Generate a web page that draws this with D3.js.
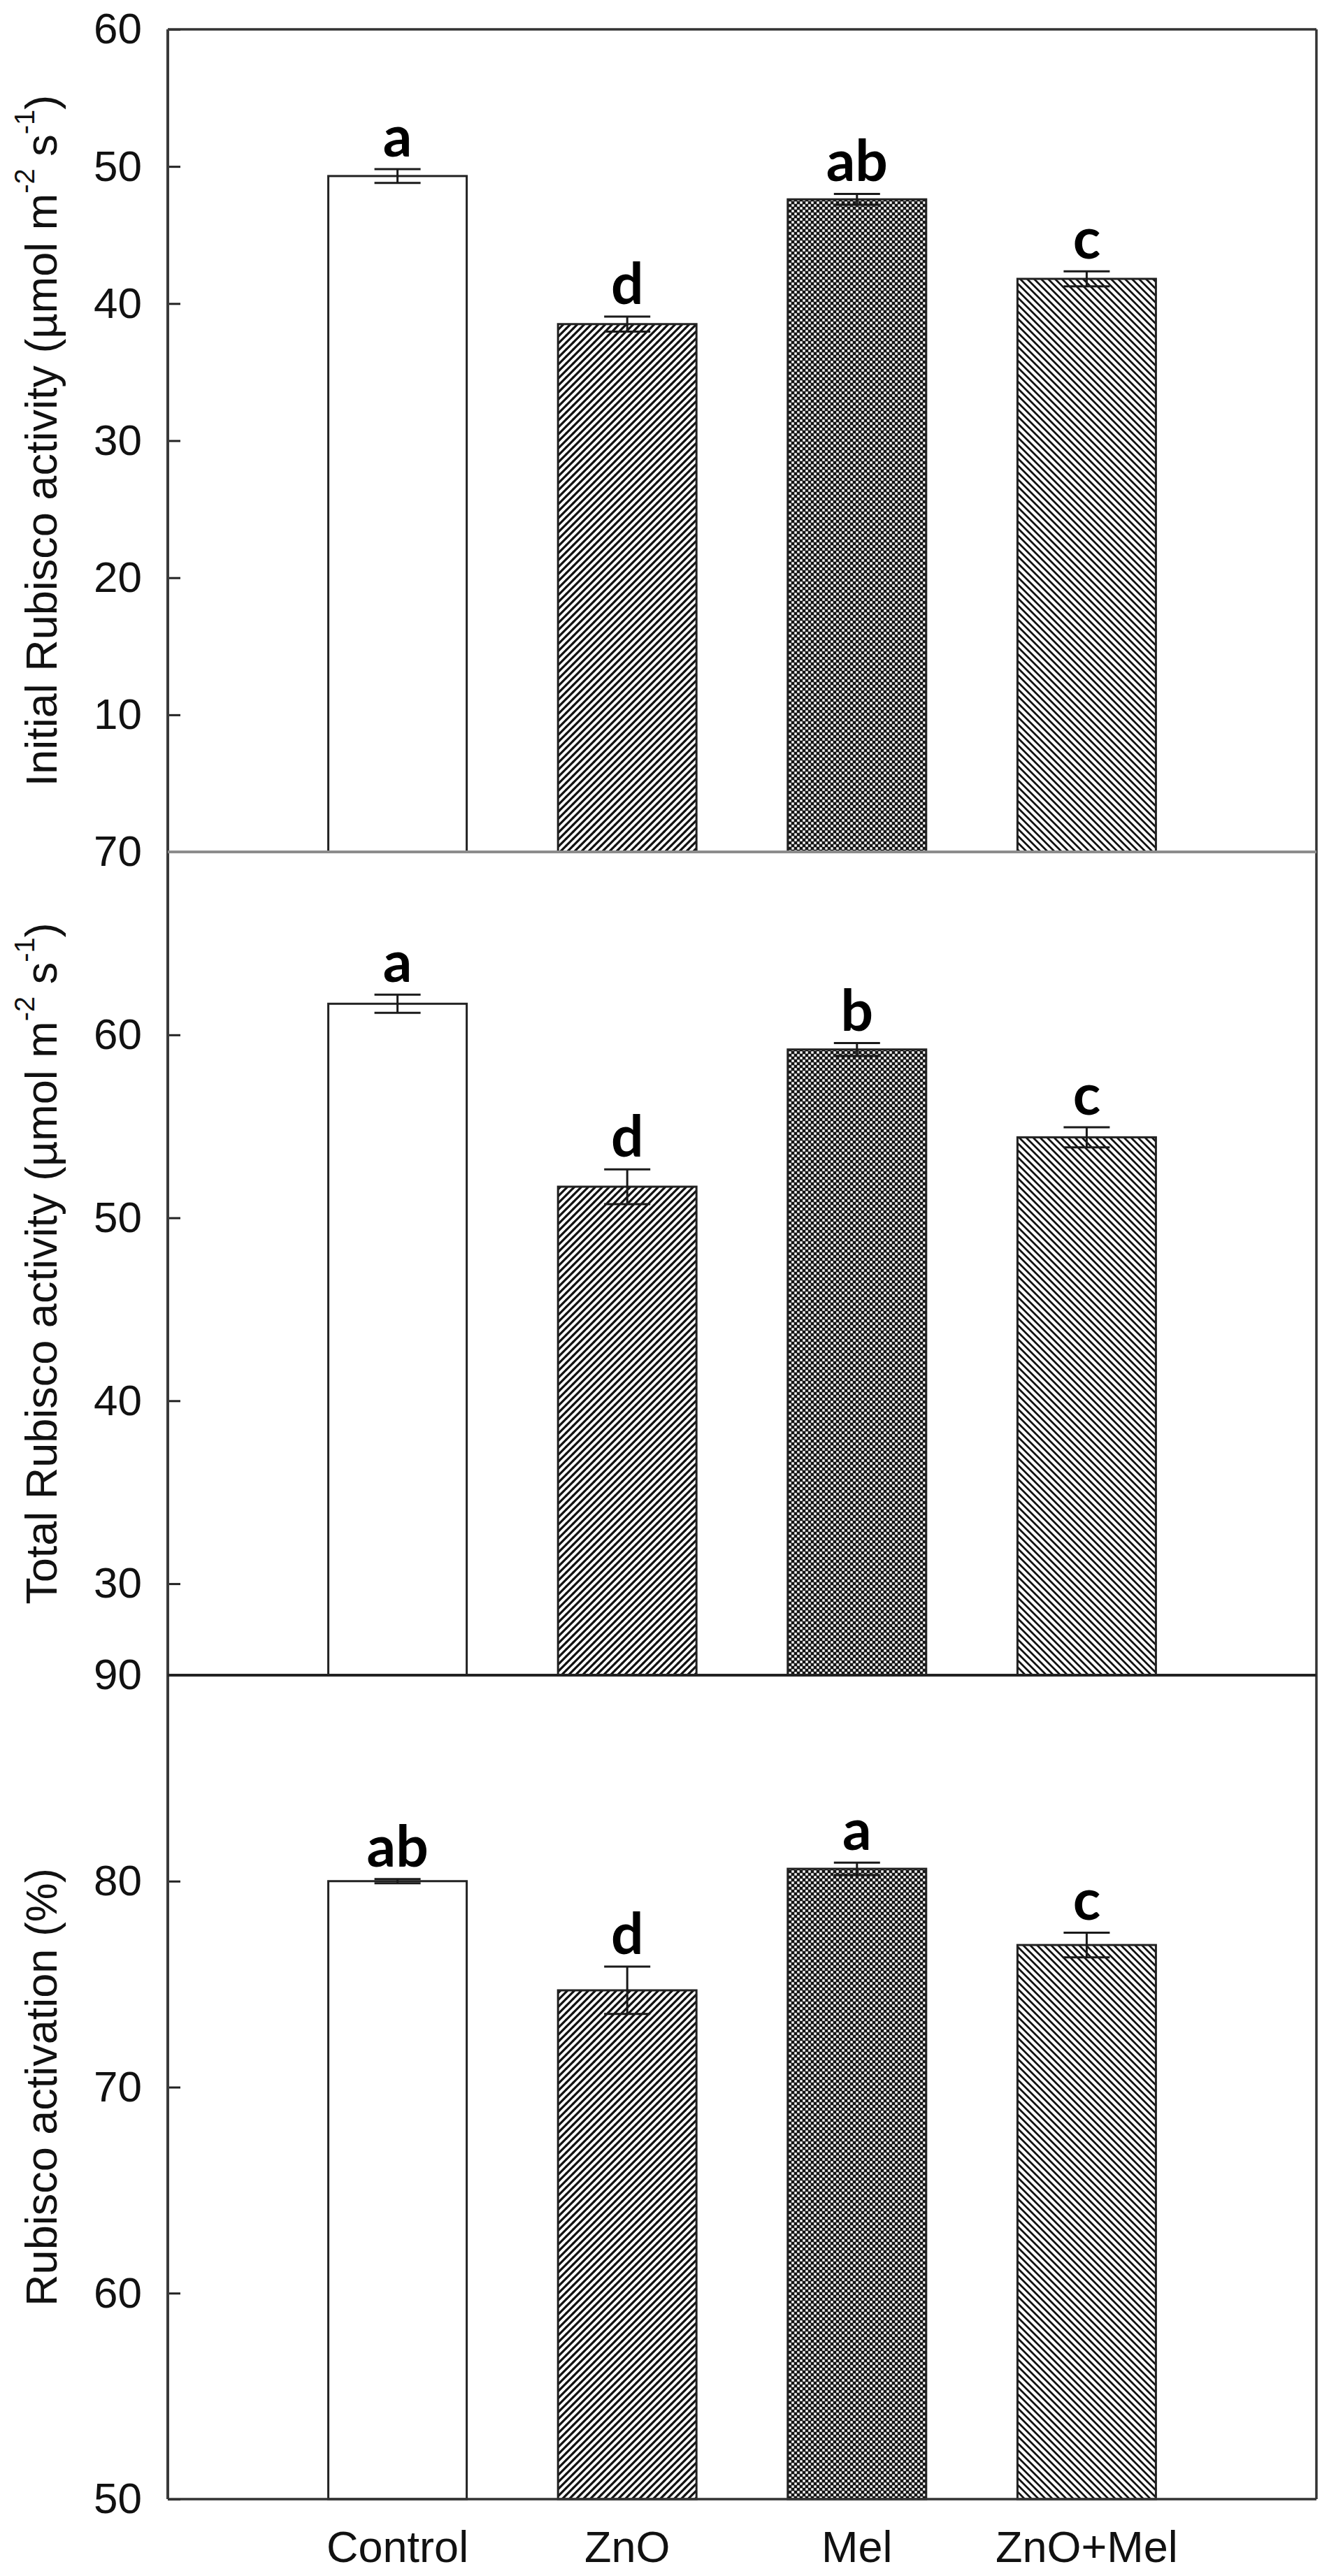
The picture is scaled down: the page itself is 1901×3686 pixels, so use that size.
<!DOCTYPE html>
<html><head><meta charset="utf-8">
<script src="https://cdn.jsdelivr.net/npm/d3@7"></script>
<style>body{margin:0;background:#fff}svg{display:block}</style>
</head><body><svg id="chart"></svg>
<script>
// ---- data ----
const categories = ["Control", "ZnO", "Mel", "ZnO+Mel"];
const initialValues = [49.3, 38.5, 47.6, 41.8];
const initialSE = [0.5, 0.55, 0.4, 0.55];
const initialLetters = ["a", "d", "ab", "c"];
const totalValues = [61.7, 51.7, 59.2, 54.4];
const totalSE = [0.5, 0.95, 0.35, 0.55];
const totalLetters = ["a", "d", "b", "c"];
const activationValues = [80.0, 74.7, 80.6, 76.9];
const activationSE = [0.1, 1.15, 0.3, 0.6];
const activationLetters = ["ab", "d", "a", "c"];
const initialTicks = [10, 20, 30, 40, 50, 60];
const totalTicks = [30, 40, 50, 60, 70];
const activationTicks = [50, 60, 70, 80, 90];
const initialDomain = [0, 60];
const totalDomain = [25, 70];
const activationDomain = [50, 90];

// ---- layout ----
const W = 1901, H = 3686;
const left = 240, right = 1883;
const svg = d3.select("#chart").attr("width", W).attr("height", H);
svg.append("rect").attr("width", W).attr("height", H).attr("fill", "#fff");

const defs = svg.append("defs");
const pR = defs.append("pattern").attr("id", "hatchR").attr("patternUnits", "userSpaceOnUse")
  .attr("width", 10).attr("height", 10);
pR.append("rect").attr("width", 10).attr("height", 10).attr("fill", "#fff");
pR.append("path").attr("d", "M-1,1 l2,-2 M0,10 l10,-10 M9,11 l2,-2")
  .attr("stroke", "#111").attr("stroke-width", 3.2);
const pL = defs.append("pattern").attr("id", "hatchL").attr("patternUnits", "userSpaceOnUse")
  .attr("width", 10).attr("height", 10);
pL.append("rect").attr("width", 10).attr("height", 10).attr("fill", "#fff");
pL.append("path").attr("d", "M-1,9 l2,2 M0,0 l10,10 M9,-1 l2,2")
  .attr("stroke", "#111").attr("stroke-width", 2.8);
const pC = defs.append("pattern").attr("id", "checker").attr("patternUnits", "userSpaceOnUse")
  .attr("width", 8).attr("height", 8);
pC.append("rect").attr("width", 8).attr("height", 8).attr("fill", "#141414");
pC.append("rect").attr("x", 0.3).attr("y", 0.3).attr("width", 3.4).attr("height", 3.4).attr("fill", "#fff");
pC.append("rect").attr("x", 4.3).attr("y", 4.3).attr("width", 3.4).attr("height", 3.4).attr("fill", "#fff");
const fills = ["#fff", "url(#hatchR)", "url(#checker)", "url(#hatchL)"];

const x = d3.scalePoint().domain(categories).range([left, right]).padding(1);
const barW = 198;

const panels = [
  { values: initialValues, se: initialSE, letters: initialLetters, ticks: initialTicks,
    domain: initialDomain, top: 42, bottom: 1219,
    title: [["Initial Rubisco activity (µmol m", 0], ["-2", 1], [" s", 0], ["-1", 1], [")", 0]] },
  { values: totalValues, se: totalSE, letters: totalLetters, ticks: totalTicks,
    domain: totalDomain, top: 1219, bottom: 2397,
    title: [["Total Rubisco activity (µmol m", 0], ["-2", 1], [" s", 0], ["-1", 1], [")", 0]] },
  { values: activationValues, se: activationSE, letters: activationLetters, ticks: activationTicks,
    domain: activationDomain, top: 2397, bottom: 3576,
    title: [["Rubisco activation (%)", 0]] }
];

panels.forEach((p, pi) => {
  const y = d3.scaleLinear().domain(p.domain).range([p.bottom, p.top]);
  const g = svg.append("g");

  // bars
  g.selectAll("rect.bar").data(categories).join("rect").attr("class", "bar")
    .attr("x", d => x(d) - barW / 2).attr("width", barW)
    .attr("y", (d, i) => y(p.values[i]))
    .attr("height", (d, i) => y(p.domain[0]) - y(p.values[i]))
    .attr("fill", (d, i) => fills[i])
    .attr("stroke", "#222").attr("stroke-width", 3);

  // error bars
  const eb = g.selectAll("g.eb").data(categories).join("g").attr("class", "eb")
    .attr("stroke", "#1a1a1a").attr("stroke-width", 3);
  eb.append("line").attr("x1", d => x(d)).attr("x2", d => x(d))
    .attr("y1", (d, i) => y(p.values[i] - p.se[i])).attr("y2", (d, i) => y(p.values[i] + p.se[i]));
  [-1, 1].forEach(s => {
    eb.append("line").attr("x1", d => x(d) - 33).attr("x2", d => x(d) + 33)
      .attr("y1", (d, i) => y(p.values[i] + s * p.se[i])).attr("y2", (d, i) => y(p.values[i] + s * p.se[i]));
  });

  // letters
  g.selectAll("text.let").data(categories).join("text").attr("class", "let")
    .attr("x", d => x(d)).attr("y", (d, i) => y(p.values[i] + p.se[i]) - 18)
    .attr("text-anchor", "middle").attr("font-family", "Lato, 'Open Sans', sans-serif")
    .attr("font-weight", "bold").attr("font-size", 82).attr("fill", "#000")
    .text((d, i) => p.letters[i]);

  // y axis
  const ax = g.append("g").attr("transform", `translate(${left},0)`)
    .call(d3.axisLeft(y).tickValues(p.ticks).tickSize(-18).tickPadding(37).tickFormat(d3.format("d")));
  ax.select(".domain").remove();
  ax.selectAll(".tick line").attr("stroke", "#222").attr("stroke-width", 3);
  ax.selectAll(".tick text").attr("font-family", "'Liberation Sans', Arial, sans-serif")
    .attr("font-size", 62).attr("fill", "#111");

  // title
  const t = g.append("text")
    .attr("transform", `translate(81,${(p.top + p.bottom) / 2}) rotate(-90)`)
    .attr("text-anchor", "middle").attr("font-family", "'Liberation Sans', Arial, sans-serif")
    .attr("font-size", 63).attr("fill", "#111");
  p.title.forEach(([s, sup], k) => {
    const ts = t.append("tspan").text(s);
    if (sup) ts.attr("font-size", 40).attr("dy", -32);
    else if (k > 0 && p.title[k - 1][1]) ts.attr("dy", 32);
  });
});

// frame
const frame = svg.append("g").attr("fill", "none");
frame.append("line").attr("x1", left).attr("x2", right).attr("y1", 42).attr("y2", 42)
  .attr("stroke", "#333").attr("stroke-width", 3.5);
frame.append("line").attr("x1", left).attr("x2", left).attr("y1", 42).attr("y2", 3576)
  .attr("stroke", "#3a3a3a").attr("stroke-width", 4);
frame.append("line").attr("x1", right).attr("x2", right).attr("y1", 42).attr("y2", 3576)
  .attr("stroke", "#333").attr("stroke-width", 3.5);
frame.append("line").attr("x1", left).attr("x2", right).attr("y1", 1219).attr("y2", 1219)
  .attr("stroke", "#8c8c8c").attr("stroke-width", 4);
frame.append("line").attr("x1", left).attr("x2", right).attr("y1", 2397).attr("y2", 2397)
  .attr("stroke", "#222").attr("stroke-width", 4);
frame.append("line").attr("x1", left).attr("x2", right).attr("y1", 3576).attr("y2", 3576)
  .attr("stroke", "#333").attr("stroke-width", 3.5);

// x labels
svg.append("g").selectAll("text").data(categories).join("text")
  .attr("x", d => x(d)).attr("y", 3666).attr("text-anchor", "middle")
  .attr("font-family", "'Liberation Sans', Arial, sans-serif").attr("font-size", 63).attr("fill", "#111")
  .text(d => d);
</script></body></html>
